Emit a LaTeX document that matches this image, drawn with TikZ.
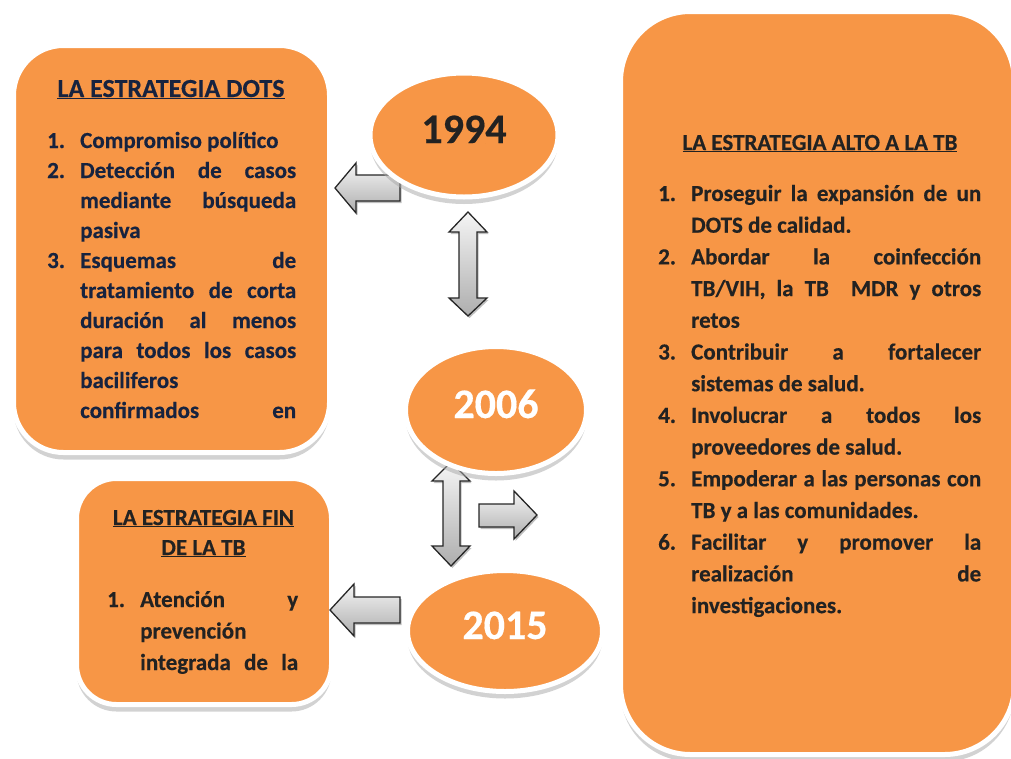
\documentclass[tikz,border=0pt]{standalone}
\usepackage{fontspec}
\setmainfont{Carlito}[BoldFeatures={FakeBold=0.4}]
\usetikzlibrary{shapes.geometric,shadows}
\definecolor{boxorange}{HTML}{F79646}
\definecolor{dotsink}{HTML}{17233F}
\definecolor{darkink}{HTML}{222222}
% one line of a numbered list: number column, then a line of given width
\newcommand\itemline[3]{\hbox{\hbox to 33pt{#1\hfil}\hbox to #2{#3}}}
\tikzset{
  stratbox/.style={draw=white, line width=5pt, fill=boxorange,
    drop shadow={shadow xshift=0pt, shadow yshift=-7pt, fill=black!35}},
  yearoval/.style={ellipse, stratbox, text height=26pt, text depth=10pt,
    font=\bfseries\fontsize{42}{50}\selectfont},
  blockarrow/.style={draw=black!85, line width=1.3pt, line join=miter,
    top color=black!4, bottom color=black!32,
    drop shadow={shadow xshift=1.5pt, shadow yshift=-2pt, fill=black!50}},
  boxtext/.style={inner sep=0pt, font=\bfseries\fontsize{23}{30}\selectfont},
}

\begin{document}
\begin{tikzpicture}[x=1pt, y=-1pt]
	\useasboundingbox (0,0) rectangle (1011,758);
	
	%%%%% boxes %%%%%
	\node[stratbox, rounded corners=50pt, minimum width=316pt, minimum height=407pt] (dots) at (171.5,249) {};
	\node[stratbox, rounded corners=40pt, minimum width=255pt, minimum height=226pt] (fin) at (204,591.5) {};
	\node[stratbox, rounded corners=70pt, minimum width=394pt, minimum height=743pt] (alto) at (817.5,383) {};
	
	%%%%% DOTS %%%%%
	\node[boxtext, anchor=base, text=dotsink, font=\bfseries\fontsize{26}{30}\selectfont] (dotstitle) at (171,97) {\underline{LA ESTRATEGIA DOTS}};
	\node[boxtext, anchor=base west, text=dotsink] (dotslist) at (47,148) {\vtop{
		\itemline{1.}{216pt}{Compromiso político\hfil}
		\itemline{2.}{216pt}{Detección de casos}
		\itemline{}{216pt}{mediante búsqueda}
		\itemline{}{216pt}{pasiva\hfil}
		\itemline{3.}{216pt}{Esquemas de}
		\itemline{}{216pt}{tratamiento de corta}
		\itemline{}{216pt}{duración al menos}
		\itemline{}{216pt}{para todos los casos}
		\itemline{}{216pt}{baciliferos\hfil}
		\itemline{}{216pt}{confirmados en}}};
	
	%%%%% ALTO A LA TB %%%%%
	\node[boxtext, anchor=base, text=darkink] (altotitle) at (820,150) {\underline{LA ESTRATEGIA ALTO A LA TB}};
	\node[boxtext, anchor=base west, text=darkink] (altolist) at (658,201) {\vtop{\baselineskip=31.7pt
		\itemline{1.}{290pt}{Proseguir la expansión de un}
		\itemline{}{290pt}{DOTS de calidad.\hfil}
		\itemline{2.}{290pt}{Abordar la coinfección}
		\itemline{}{290pt}{TB/VIH, la TB\ \ MDR y otros}
		\itemline{}{290pt}{retos\hfil}
		\itemline{3.}{290pt}{Contribuir a fortalecer}
		\itemline{}{290pt}{sistemas de salud.\hfil}
		\itemline{4.}{290pt}{Involucrar a todos los}
		\itemline{}{290pt}{proveedores de salud.\hfil}
		\itemline{5.}{290pt}{Empoderar a las personas con}
		\itemline{}{290pt}{TB y a las comunidades.\hfil}
		\itemline{6.}{290pt}{Facilitar y promover la}
		\itemline{}{290pt}{realización de}
		\itemline{}{290pt}{investigaciones.\hfil}}};
	
	%%%%% FIN DE LA TB %%%%%
	\node[boxtext, anchor=base, text=darkink] (fintitle) at (203.5,525) {\vtop{
		\hbox to 0pt{\hss\underline{LA ESTRATEGIA FIN}\hss}
		\hbox to 0pt{\hss\underline{DE LA TB}\hss}}};
	\node[boxtext, anchor=base west, text=darkink] (finlist) at (107,607) {\vtop{\baselineskip=31.5pt
		\itemline{1.}{158pt}{Atención y}
		\itemline{}{158pt}{prevención\hfil}
		\itemline{}{158pt}{integrada de la}}};
	
	%%%%% arrows %%%%%
	\draw[blockarrow] (335,188) -- (356,163) -- (356,175) -- (400,175) -- (400,201) -- (356,201) -- (356,213) -- cycle;
	\draw[blockarrow] (468,212) -- (487,232) -- (477,232) -- (477,298) -- (487,298) -- (468,316)
		-- (449,298) -- (459,298) -- (459,232) -- (449,232) -- cycle;
	\draw[blockarrow] (451,462) -- (470,481) -- (460,481) -- (460,546) -- (470,546) -- (451,566)
		-- (432,546) -- (443,546) -- (443,481) -- (432,481) -- cycle;
	\draw[blockarrow] (479,504) -- (514,504) -- (514,491) -- (537,515) -- (514,539) -- (514,527) -- (479,527) -- cycle;
	\draw[blockarrow] (330,610) -- (354,584) -- (354,597) -- (400,597) -- (400,623) -- (354,623) -- (354,636) -- cycle;
	
	%%%%% years %%%%%
	\node[yearoval, minimum width=188pt, minimum height=124pt, text=darkink] (y1994) at (464,135) {1994};
	\node[yearoval, minimum width=181pt, minimum height=127pt, text=white] (y2006) at (496,410) {2006};
	\node[yearoval, minimum width=195pt, minimum height=121pt, text=white] (y2015) at (505,631) {2015};
\end{tikzpicture}
\end{document}
